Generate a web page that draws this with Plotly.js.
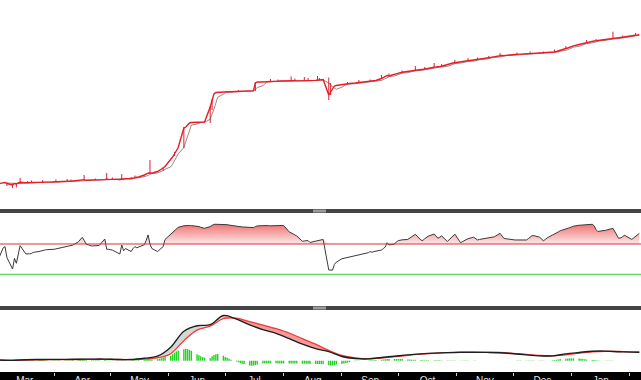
<!DOCTYPE html>
<html>
<head>
<meta charset="utf-8">
<script src="https://cdn.plot.ly/plotly-3.0.1.min.js"></script>
<style>
  html, body { margin: 0; padding: 0; background: #000; }
  #chart { width: 641px; height: 380px; }
</style>
</head>
<body>
<div id="chart"></div>
<script>
// Session window (weekdays only)
const firstSession = '2025-03-03';
const lastSession = '2026-02-06';

// Daily closing prices, one line per month (Mar .. Feb)
const close = [
  26.5, 27.0, 27.2, 27.5, 26.5, 25.0, 26.5, 26.0, 27.0, 27.7, 27.2, 27.2, 27.3, 27.4, 27.5, 27.6, 27.7, 27.8, 27.8, 27.9, 28.0,
  28.0, 28.1, 28.2, 28.3, 28.5, 28.6, 28.7, 28.8, 29.0, 29.2, 29.4, 29.8, 30.4, 29.7, 29.8, 29.9, 30.0, 30.1, 30.2, 30.4, 31.0, 30.4,
  30.6, 30.7, 30.6, 30.2, 31.2, 30.8, 31.4, 31.2, 32.0, 32.4, 32.7, 33.0, 35.0, 36.2, 36.8, 37.2, 36.8, 38.5, 39.5, 40.5, 42.0, 43.5,
  50.0, 53.0, 56.0, 59.0, 62.5, 82.0, 83.0, 85.0, 87.0, 87.5, 87.5, 87.7, 87.5, 87.7, 88.0, 103.0, 110.0, 116.0, 117.5, 117.7, 117.8,
  118.0, 118.0, 118.2, 118.2, 118.4, 118.4, 118.5, 118.6, 118.7, 119.0, 119.1, 119.3, 127.0, 128.0, 128.0, 128.2, 128.3, 128.4, 128.5, 128.8, 128.9, 129.0, 129.1,
  129.2, 129.4, 129.2, 129.3, 129.2, 129.1, 129.0, 129.2, 129.4, 129.3, 129.4, 129.6, 129.8, 130.0, 130.2, 130.4, 115.0, 118.0, 122.0, 124.0, 124.5,
  125.5, 125.7, 126.0, 126.3, 126.5, 127.0, 127.2, 127.5, 127.8, 128.0, 128.5, 128.8, 129.0, 129.2, 129.5, 131.5, 132.5, 133.5, 134.5, 134.0, 136.0, 136.5,
  137.0, 137.3, 137.7, 138.5, 138.8, 139.0, 139.5, 140.2, 140.5, 140.5, 141.0, 141.2, 141.5, 142.8, 143.0, 143.0, 143.5, 143.8, 145.0, 146.0, 146.5, 147.0, 147.2,
  148.0, 148.2, 148.5, 149.0, 149.2, 150.0, 150.2, 150.5, 151.0, 151.4, 152.0, 152.3, 152.6, 153.0, 153.2, 154.3, 154.5, 154.4, 154.7, 155.0,
  155.4, 155.5, 155.6, 155.7, 155.7, 155.8, 156.0, 156.1, 156.3, 156.4, 156.5, 156.7, 156.7, 157.0, 157.2, 157.7, 158.0, 158.5, 159.2, 160.0, 161.5, 162.0, 163.0,
  163.8, 164.2, 165.5, 166.0, 166.5, 167.0, 167.4, 168.6, 169.0, 169.2, 169.4, 170.0, 170.5, 170.8, 171.1, 171.4, 171.7, 172.0, 172.4, 172.7, 173.0, 173.4,
  174.0, 174.4, 174.7, 175.0, 175.5
];

// Sessions with a wide intraday range
const rangeDates = [
  '2025-03-07', '2025-03-10', '2025-03-12', '2025-03-14', '2025-03-18', '2025-03-20',
  '2025-03-26', '2025-04-02', '2025-04-08', '2025-04-10', '2025-04-17', '2025-04-23',
  '2025-04-29', '2025-05-02', '2025-05-07', '2025-05-12', '2025-05-14', '2025-05-22',
  '2025-05-29', '2025-06-04', '2025-06-09', '2025-06-23', '2025-06-24', '2025-07-08',
  '2025-07-17', '2025-07-25', '2025-07-29', '2025-08-05', '2025-08-07', '2025-08-12',
  '2025-08-14', '2025-08-19', '2025-08-20', '2025-08-25', '2025-08-26', '2025-09-04',
  '2025-09-10', '2025-09-16', '2025-09-22', '2025-09-26', '2025-10-03', '2025-10-10',
  '2025-10-15', '2025-10-20', '2025-10-24', '2025-10-31', '2025-11-07', '2025-11-12',
  '2025-11-18', '2025-11-24', '2025-12-03', '2025-12-10', '2025-12-17', '2025-12-23',
  '2025-12-29', '2026-01-09', '2026-01-14', '2026-01-23', '2026-01-28', '2026-02-04'
];
const rangeHigh = [
  27.5, 26.5, 27.0, 32.0, 29.0, 29.5,
  30.0, 30.5, 31.0, 30.5, 35.0, 31.5,
  37.0, 32.5, 36.0, 33.0, 34.5, 50.0,
  43.0, 58.0, 83.0, 104.0, 111.0, 120.0,
  128.0, 131.0, 130.5, 133.5, 131.5, 133.0,
  132.0, 134.0, 132.0, 132.5, 127.0, 128.0,
  130.0, 130.5, 135.0, 136.5, 139.5, 144.0,
  143.0, 147.0, 146.0, 150.0, 152.0, 152.5,
  154.0, 157.0, 157.5, 158.5, 158.5, 160.5,
  164.0, 170.0, 171.0, 178.3, 174.5, 177.0
];
const rangeLow = [
  24.0, 22.0, 22.5, 27.0, 27.2, 27.0,
  27.5, 28.0, 28.5, 28.8, 29.8, 30.0,
  30.5, 30.7, 30.5, 31.4, 32.0, 36.5,
  39.0, 54.0, 62.0, 87.0, 100.0, 118.4,
  119.0, 128.0, 128.9, 129.0, 129.2, 129.0,
  129.3, 129.5, 130.0, 110.0, 115.0, 126.3,
  127.5, 128.8, 131.0, 134.0, 137.7, 140.0,
  141.0, 142.5, 143.8, 146.5, 149.0, 150.5,
  152.3, 154.0, 155.6, 156.0, 156.7, 158.0,
  161.0, 167.4, 169.2, 171.7, 172.7, 174.5
];

// Daily oscillator reading (0-100 scale)
const rsi = [
  53, 60, 65, 66.5, 52, 37, 51, 44.5, 58, 67.8, 57, 56.8, 57, 57.5, 59, 60, 61, 62, 62, 62.5, 62.5,
  63, 63.5, 64, 64.5, 65.5, 66.5, 66.8, 67.2, 68.5, 73, 76, 78.8, 75, 70, 67.4, 67.5, 67.6, 67.8, 68, 76.6, 63, 63,
  62.5, 62, 58, 56.8, 68.7, 61, 64, 60, 64, 66.5, 65, 66, 69, 75, 82, 70, 64, 60, 62, 64, 66.5, 76,
  83, 86, 88, 90, 92, 94, 94.5, 94.5, 94.5, 94.3, 93.8, 93, 92, 91.5, 90.7, 93, 95, 96, 96, 96, 96,
  95.8, 95.5, 95, 94.5, 93.5, 93, 92.8, 92.5, 92.4, 92, 91.8, 91.6, 93, 93.8, 94.2, 94.5, 94.5, 94.3, 94, 93.8, 94, 94.2, 94.5,
  94.5, 86, 85, 84, 82, 80.5, 73.6, 74, 74.5, 74.5, 72, 74, 75, 75.3, 75.5, 76, 35.7, 35.2, 35.5, 43, 46,
  50.5, 51, 51.5, 52, 52.5, 54, 54.5, 55, 56, 57, 58.5, 60, 59, 60, 60.5, 62, 64, 66, 71.7, 68.7, 70, 73,
  74.4, 75, 75.5, 76, 77.5, 79, 81, 82.8, 75, 74.7, 77, 79, 80.5, 83.2, 80, 77.5, 79, 80.6, 73.3, 76, 79, 81, 83,
  71.7, 73, 74.5, 76, 77, 79, 77, 75.3, 76, 76.5, 77.5, 78, 78.5, 79, 79.5, 84.1, 81, 77.5, 77, 76.5,
  76, 75.3, 75.3, 75.3, 75.3, 75.3, 77, 79, 81, 81, 79, 77, 74, 76, 78, 82, 83, 84.5, 86, 87.5, 89.4, 90.5, 91.5,
  92.5, 93.5, 94.7, 95, 95.3, 95.5, 95.8, 96, 94, 89, 86.3, 87, 88, 89, 89.5, 90, 90.7, 77.5, 78, 79, 81.7, 80,
  76, 78, 80, 81.7, 84
];
const rsiUpper = 70;
const rsiLower = 30;

// Daily momentum histogram
const hist = [
  0.6, 0.8, 1.0, 0.9, 0.4, -0.3, 0.2, 0.1, 0.5, 0.9, 0.6, 0.5, 0.5, 0.5, 0.6, 0.6, 0.6, 0.6, 0.5, 0.5, 0.5,
  0.5, 0.5, 0.5, 0.5, 0.5, 0.5, 0.5, 0.5, 0.6, 0.8, 0.9, 1.0, 0.9, 0.6, 0.5, 0.5, 0.4, 0.4, 0.4, 0.7, 0.4, 0.3,
  0.3, 0.3, 0.2, 0.1, 0.4, 0.3, 0.4, 0.3, 0.4, 0.5, 0.5, 0.6, 0.9, 1.2, 1.6, 1.4, 1.2, 1.5, 2.0, 2.5, 3.2, 4.0,
  4.8, 6.5, 8.0, 9.3, 10.3, 11.5, 11.8, 11.5, 10.8, 9.8, 6.5, 5.5, 4.5, 3.6, 3.0, 2.5, 4.5, 5.8, 6.5, 6.7, 5.0,
  3.8, 3.0, 2.0, 1.0, -0.8, -1.5, -2.3, -3.0, -3.5, -4.8, -5.0, -4.8, -4.3, -3.8, -2.8, -2.7, -2.7, -2.6, -2.6, -2.6, -2.7, -2.7, -2.7,
  -2.7, -2.8, -2.8, -2.8, -2.9, -2.9, -3.0, -3.0, -3.0, -3.1, -3.2, -3.3, -3.3, -3.3, -3.3, -3.5, -4.5, -5.0, -4.8, -4.2, -3.8,
  -3.2, -2.8, -2.3, -1.8, -1.4, -0.6, -0.4, -0.2, 0.0, 0.1, 0.3, 0.4, 0.5, 0.5, 0.6, 0.8, 1.2, 1.5, 1.8, 1.7, 1.7, 1.6,
  1.6, 1.7, 1.6, 1.3, 1.1, 1.0, 0.9, 0.9, 0.6, 0.5, 0.5, 0.5, 0.5, 0.5, 0.4, 0.4, 0.4, 0.3, 0.3, 0.3, 0.3, 0.3, 0.3,
  0.2, 0.2, 0.2, 0.2, 0.2, 0.2, 0.2, 0.1, 0.1, 0.1, 0.1, 0.1, 0.1, 0.1, 0.1, 0.1, 0.1, 0.0, 0.0, 0.0,
  -0.1, -0.1, -0.2, -0.2, -0.2, -0.3, -0.3, -0.3, -0.3, -0.3, -0.3, -0.2, -0.2, -0.1, 0.0, 0.4, 0.7, 1.0, 1.3, 1.6, 2.0, 2.2, 2.3,
  2.3, 2.3, 2.2, 2.0, 1.8, 1.5, 1.2, 0.8, 0.6, 0.4, 0.3, 0.2, 0.2, 0.2, 0.2, 0.2, 0.2, 0.1, 0.1, 0.1, 0.1, 0.1,
  0.1, 0.1, 0.1, 0.1, 0.1
];

// Weekly momentum line and its signal line (each Monday, plus the last session)
const macd = [
  0.8, 0.3, 1.0, 1.2, 1.3, 1.3, 1.5, 1.6, 1.6, 1.2, 1.2, 2.5, 4.5,
  13.5, 29.5, 35.0, 36.0, 45.2, 41.5, 35.8, 31.0, 27.3, 22.0, 16.5, 12.0, 9.0,
  4.2, 2.2, 1.8, 3.2, 4.5, 5.8, 6.8, 7.6, 8.1, 8.4, 8.4, 8.3, 8.0,
  7.0, 5.8, 4.8, 4.8, 6.8, 8.2, 9.5, 9.6, 9.0, 8.6, 8.4
];
const signal = [
  0.4, 0.5, 0.6, 0.8, 1.0, 1.1, 1.2, 1.3, 1.4, 1.2, 1.1, 1.6, 2.8,
  7.0, 20.0, 30.5, 34.5, 42.0, 42.5, 39.0, 35.6, 32.0, 27.7, 22.0, 16.5, 10.3,
  5.2, 2.8, 1.9, 2.6, 4.0, 5.4, 6.5, 7.4, 8.0, 8.3, 8.4, 8.4, 8.2,
  7.4, 6.2, 5.2, 4.9, 5.8, 7.5, 8.9, 9.4, 9.2, 8.8, 8.6
];

// ---- session dates ----
function weekdaysBetween(a, b) {
  const out = [];
  let t = Date.parse(a + 'T00:00:00Z');
  const end = Date.parse(b + 'T00:00:00Z');
  while (t <= end) {
    const wd = new Date(t).getUTCDay();
    if (wd !== 0 && wd !== 6) out.push(new Date(t).toISOString().slice(0, 10));
    t += 86400000;
  }
  return out;
}
const days = weekdaysBetween(firstSession, lastSession);
const weeks = days.filter((d, i) => i % 5 === 0);
weeks.push(days[days.length - 1]);

// vertical stick segments (x, x, gap) for a list of dates
function sticks(dates, lo, hi) {
  const x = [], y = [];
  dates.forEach((d, i) => { x.push(d, d, null); y.push(lo[i], hi[i], null); });
  return { x, y };
}

// ---- colours ----
const RED = '#e81c27';
const GREEN_BAR = '#22d022';

const traces = [];

// price: wide-range sessions, a 5-session average and the close line
const rs = sticks(rangeDates, rangeLow, rangeHigh);
traces.push({ x: rs.x, y: rs.y, type: 'scatter', mode: 'lines', line: { color: RED, width: 1 },
  xaxis: 'x', yaxis: 'y', hoverinfo: 'skip' });
const avg5 = close.map((v, i) => i < 4 ? null : (close[i] + close[i-1] + close[i-2] + close[i-3] + close[i-4]) / 5);
traces.push({ x: days, y: avg5, type: 'scatter', mode: 'lines', line: { color: 'rgba(110,60,60,0.8)', width: 0.8 },
  xaxis: 'x', yaxis: 'y', hoverinfo: 'skip' });
traces.push({ x: days, y: close, type: 'scatter', mode: 'lines', line: { color: RED, width: 1.4 },
  xaxis: 'x', yaxis: 'y', hoverinfo: 'skip' });

// oscillator: shaded zone above the upper level
traces.push({ x: days, y: days.map(() => rsiUpper), type: 'scatter', mode: 'lines',
  line: { width: 0, color: 'rgba(0,0,0,0)' }, xaxis: 'x', yaxis: 'y2', hoverinfo: 'skip' });
traces.push({ x: days, y: rsi.map(v => Math.max(v, rsiUpper)), type: 'scatter', mode: 'lines',
  line: { width: 0, color: 'rgba(0,0,0,0)' }, fill: 'tonexty',
  fillgradient: { type: 'vertical', start: rsiUpper, stop: 97,
    colorscale: [[0, 'rgba(253,232,232,1)'], [1, 'rgba(240,112,112,1)']] },
  xaxis: 'x', yaxis: 'y2', hoverinfo: 'skip' });
traces.push({ x: days, y: rsi, type: 'scatter', mode: 'lines', line: { color: '#3a3a3a', width: 1 },
  xaxis: 'x', yaxis: 'y2', hoverinfo: 'skip' });

// momentum: closed band between the two lines, grey when above the signal, pink when below
let runStart = 0;
const above = i => macd[i] >= signal[i];
for (let i = 1; i <= weeks.length; i++) {
  if (i === weeks.length || above(i) !== above(runStart)) {
    const a = Math.max(0, runStart - 1);
    const b = Math.min(weeks.length - 1, i);
    const xs = weeks.slice(a, b + 1);
    traces.push({
      x: xs.concat(xs.slice().reverse()),
      y: macd.slice(a, b + 1).concat(signal.slice(a, b + 1).reverse()),
      type: 'scatter', mode: 'lines', fill: 'toself',
      fillcolor: above(runStart) ? '#d6d6d6' : '#f49a9a',
      line: { width: 0, shape: 'spline', color: 'rgba(0,0,0,0)' }, xaxis: 'x', yaxis: 'y3', hoverinfo: 'skip' });
    runStart = i;
  }
}

// momentum: histogram sticks from the zero level
const hs = sticks(days, days.map(() => 0), hist);
traces.push({ x: hs.x, y: hs.y, type: 'scatter', mode: 'lines', line: { color: GREEN_BAR, width: 1.4 },
  xaxis: 'x', yaxis: 'y3', hoverinfo: 'skip' });

traces.push({ x: weeks, y: signal, type: 'scatter', mode: 'lines', line: { color: '#f03a3a', width: 1.3, shape: 'spline' },
  xaxis: 'x', yaxis: 'y3', hoverinfo: 'skip' });
traces.push({ x: weeks, y: macd, type: 'scatter', mode: 'lines', line: { color: '#1e1e1e', width: 1.4, shape: 'spline' },
  xaxis: 'x', yaxis: 'y3', hoverinfo: 'skip' });

// ---- panel geometry (fractions of the 372 px plot height) ----
const H = 372;
const f = px => 1 - px / H;

const hiddenY = { showgrid: false, zeroline: false, showticklabels: false, ticks: '', showline: false, fixedrange: true };

const layout = {
  width: 641, height: 380,
  margin: { l: 0, r: 0, t: 0, b: 8, pad: 0 },
  paper_bgcolor: '#000000',
  plot_bgcolor: '#ffffff',
  showlegend: false,
  xaxis: {
    type: 'date', anchor: 'y3',
    range: ['2025-03-03 07:26', '2026-02-06 21:36'],
    tick0: '2025-03-01', dtick: 'M1', tickformat: '%b', ticklabelmode: 'period',
    ticks: 'outside', ticklen: 3, tickwidth: 1, tickcolor: '#cfcfcf',
    ticklabelstandoff: -4,
    tickfont: { family: 'Liberation Sans, Arial, sans-serif', size: 10, color: '#e4e4e4' },
    showgrid: false, zeroline: false, showline: false, fixedrange: true
  },
  yaxis: Object.assign({ domain: [f(209), 1], range: [1, 210], anchor: 'x' }, hiddenY),
  yaxis2: Object.assign({ domain: [f(306), f(213)], range: [-11.85, 110.9], anchor: 'x' }, hiddenY),
  yaxis3: Object.assign({ domain: [0, f(310)], range: [-11.3, 50.7], anchor: 'x' }, hiddenY),
  shapes: [
    // oscillator levels
    { type: 'line', xref: 'paper', x0: 0, x1: 1, yref: 'y2', y0: rsiUpper, y1: rsiUpper, line: { color: '#d8303a', width: 1 } },
    { type: 'line', xref: 'paper', x0: 0, x1: 1, yref: 'y2', y0: rsiLower, y1: rsiLower, line: { color: '#3ccc3c', width: 1 } },
    // panel dividers with grab handles
    { type: 'rect', xref: 'paper', yref: 'paper', x0: 0, x1: 1, y0: f(213), y1: f(209), fillcolor: '#444444', line: { width: 0 } },
    { type: 'rect', xref: 'paper', yref: 'paper', x0: 313 / 641, x1: 326 / 641, y0: f(212.5), y1: f(209.5), fillcolor: '#9a9a9a', line: { width: 0 } },
    { type: 'rect', xref: 'paper', yref: 'paper', x0: 0, x1: 1, y0: f(310), y1: f(306), fillcolor: '#444444', line: { width: 0 } },
    { type: 'rect', xref: 'paper', yref: 'paper', x0: 313 / 641, x1: 326 / 641, y0: f(309.5), y1: f(306.5), fillcolor: '#9a9a9a', line: { width: 0 } }
  ]
};

Plotly.newPlot('chart', traces, layout, { staticPlot: true, displayModeBar: false });
</script>
</body>
</html>
